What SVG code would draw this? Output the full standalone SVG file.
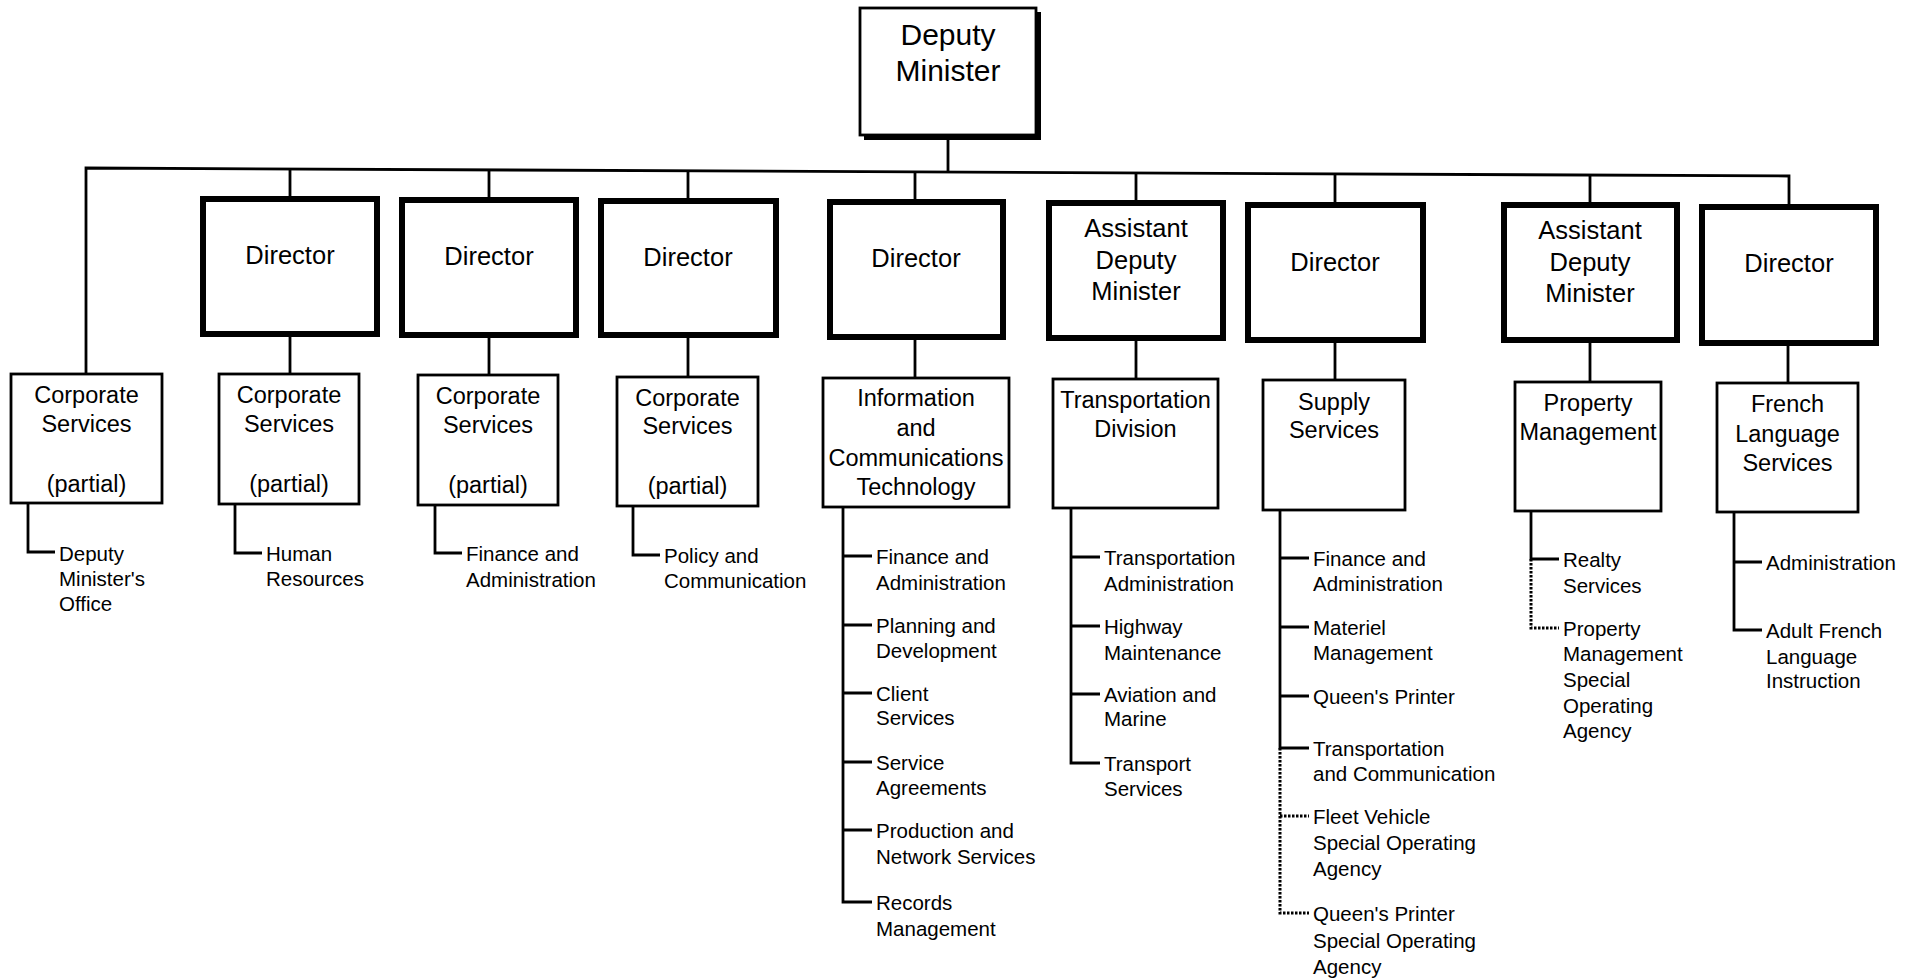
<svg xmlns="http://www.w3.org/2000/svg" width="1915" height="979" viewBox="0 0 1915 979">
<style>
  text { font-family: "Liberation Sans", Arial, sans-serif; fill: #000; }
  .dm { font-size: 30px; text-anchor: middle; }
  .l2 { font-size: 25.5px; text-anchor: middle; }
  .l3 { font-size: 23.5px; text-anchor: middle; }
  .lf { font-size: 20.5px; }
  .thick { fill: #fff; stroke: #000; stroke-width: 6; }
  .thin { fill: #fff; stroke: #000; stroke-width: 2.8; }
  .ln { fill: none; stroke: #000; stroke-width: 2.8; }
  .dot { fill: none; stroke: #000; stroke-width: 3; stroke-dasharray: 2.5 1.5; }
</style>
<rect width="1915" height="979" fill="#fff"/>

<g id="connectors">
  <path class="ln" d="M948 135 V172"/>
  <path class="ln" d="M86 373 V168 L1789 176 V204"/>
  <path class="ln" d="M290 169 V196 M489 170 V197 M688 171 V198 M915 172 V199 M1136 173 V200 M1335 174 V202 M1590 175 V202"/>
  <path class="ln" d="M290 337 V373 M489 338 V374 M688 338 V376 M915 340 V377 M1136 341 V378 M1335 343 V379 M1590 343 V381 M1788 346 V382"/>
  <path class="ln" d="M28 504 V552 H55"/>
  <path class="ln" d="M235 505 V553 H262"/>
  <path class="ln" d="M435 506 V553 H462"/>
  <path class="ln" d="M633 507 V555 H660"/>
  <path class="ln" d="M843 508 V902 H872 M843 556 H872 M843 625 H872 M843 693 H872 M843 762 H872 M843 830 H872"/>
  <path class="ln" d="M1071 509 V763 H1100 M1071 557 H1100 M1071 626 H1100 M1071 694 H1100"/>
  <path class="ln" d="M1280 511 V748 H1309 M1280 558 H1309 M1280 627 H1309 M1280 696 H1309"/>
  <path class="dot" d="M1280 748 V913 H1309 M1280 816 H1309"/>
  <path class="ln" d="M1531 512 V559 H1559"/>
  <path class="dot" d="M1531 559 V628 H1559"/>
  <path class="ln" d="M1734 513 V630 H1762 M1734 562 H1762"/>
</g>

<g id="deputy-minister">
  <rect x="864" y="12" width="177" height="128" fill="#000"/>
  <rect class="thin" x="860" y="8" width="176" height="127"/>
  <text class="dm" x="948" y="45">Deputy</text>
  <text class="dm" x="948" y="81">Minister</text>
</g>

<g id="dir-a"><rect class="thick" x="203" y="199" width="174" height="135"/><text class="l2" x="290" y="264">Director</text></g>
<g id="dir-b"><rect class="thick" x="402" y="200" width="174" height="135"/><text class="l2" x="489" y="265">Director</text></g>
<g id="dir-c"><rect class="thick" x="601" y="201" width="175" height="134"/><text class="l2" x="688" y="266">Director</text></g>
<g id="dir-d"><rect class="thick" x="830" y="202" width="173" height="135"/><text class="l2" x="916" y="267">Director</text></g>
<g id="adm-e"><rect class="thick" x="1049" y="203" width="174" height="135"/>
  <text class="l2" x="1136" y="237">Assistant</text><text class="l2" x="1136" y="269">Deputy</text><text class="l2" x="1136" y="300">Minister</text></g>
<g id="dir-f"><rect class="thick" x="1248" y="205" width="175" height="135"/><text class="l2" x="1335" y="271">Director</text></g>
<g id="adm-g"><rect class="thick" x="1504" y="205" width="173" height="135"/>
  <text class="l2" x="1590" y="239">Assistant</text><text class="l2" x="1590" y="271">Deputy</text><text class="l2" x="1590" y="302">Minister</text></g>
<g id="dir-h"><rect class="thick" x="1702" y="207" width="174" height="136"/><text class="l2" x="1789" y="272">Director</text></g>

<g id="cs-a"><rect class="thin" x="11" y="374" width="151" height="129"/>
  <text class="l3" x="86.5" y="402.5">Corporate</text><text class="l3" x="86.5" y="431.5">Services</text><text class="l3" x="86.5" y="491.5">(partial)</text></g>
<g id="cs-b"><rect class="thin" x="219" y="374" width="140" height="130"/>
  <text class="l3" x="289" y="402.5">Corporate</text><text class="l3" x="289" y="431.5">Services</text><text class="l3" x="289" y="491.5">(partial)</text></g>
<g id="cs-c"><rect class="thin" x="418" y="375" width="140" height="130"/>
  <text class="l3" x="488" y="403.5">Corporate</text><text class="l3" x="488" y="432.5">Services</text><text class="l3" x="488" y="492.5">(partial)</text></g>
<g id="cs-d"><rect class="thin" x="617" y="377" width="141" height="129"/>
  <text class="l3" x="687.5" y="405.5">Corporate</text><text class="l3" x="687.5" y="433.5">Services</text><text class="l3" x="687.5" y="493.5">(partial)</text></g>
<g id="ict"><rect class="thin" x="823" y="378" width="186" height="129"/>
  <text class="l3" x="916" y="405.5">Information</text><text class="l3" x="916" y="435.5">and</text><text class="l3" x="916" y="465.5">Communications</text><text class="l3" x="916" y="494.5">Technology</text></g>
<g id="transport-div"><rect class="thin" x="1053" y="379" width="165" height="129"/>
  <text class="l3" x="1135.5" y="407.5">Transportation</text><text class="l3" x="1135.5" y="436.5">Division</text></g>
<g id="supply"><rect class="thin" x="1263" y="380" width="142" height="130"/>
  <text class="l3" x="1334" y="409.5">Supply</text><text class="l3" x="1334" y="437.5">Services</text></g>
<g id="property"><rect class="thin" x="1515" y="382" width="146" height="129"/>
  <text class="l3" x="1588" y="410.5">Property</text><text class="l3" x="1588" y="439.5">Management</text></g>
<g id="french"><rect class="thin" x="1717" y="383" width="141" height="129"/>
  <text class="l3" x="1787.5" y="411.5">French</text><text class="l3" x="1787.5" y="441.5">Language</text><text class="l3" x="1787.5" y="470.5">Services</text></g>

<g id="leaf-a"><text class="lf" x="59" y="560.5">Deputy</text><text class="lf" x="59" y="585.5">Minister's</text><text class="lf" x="59" y="610.5">Office</text></g>
<g id="leaf-b"><text class="lf" x="266" y="560.5">Human</text><text class="lf" x="266" y="585.5">Resources</text></g>
<g id="leaf-c"><text class="lf" x="466" y="560.5">Finance and</text><text class="lf" x="466" y="586.5">Administration</text></g>
<g id="leaf-d"><text class="lf" x="664" y="562.5">Policy and</text><text class="lf" x="664" y="587.5">Communication</text></g>

<g id="leaf-ict">
  <text class="lf" x="876" y="563.5">Finance and</text><text class="lf" x="876" y="589.5">Administration</text>
  <text class="lf" x="876" y="632.5">Planning and</text><text class="lf" x="876" y="657.5">Development</text>
  <text class="lf" x="876" y="700.5">Client</text><text class="lf" x="876" y="724.5">Services</text>
  <text class="lf" x="876" y="769.5">Service</text><text class="lf" x="876" y="794.5">Agreements</text>
  <text class="lf" x="876" y="837.5">Production and</text><text class="lf" x="876" y="863.5">Network Services</text>
  <text class="lf" x="876" y="909.5">Records</text><text class="lf" x="876" y="935.5">Management</text>
</g>
<g id="leaf-transport">
  <text class="lf" x="1104" y="564.5">Transportation</text><text class="lf" x="1104" y="590.5">Administration</text>
  <text class="lf" x="1104" y="633.5">Highway</text><text class="lf" x="1104" y="659.5">Maintenance</text>
  <text class="lf" x="1104" y="701.5">Aviation and</text><text class="lf" x="1104" y="725.5">Marine</text>
  <text class="lf" x="1104" y="770.5">Transport</text><text class="lf" x="1104" y="795.5">Services</text>
</g>
<g id="leaf-supply">
  <text class="lf" x="1313" y="565.5">Finance and</text><text class="lf" x="1313" y="590.5">Administration</text>
  <text class="lf" x="1313" y="634.5">Materiel</text><text class="lf" x="1313" y="659.5">Management</text>
  <text class="lf" x="1313" y="703.5">Queen's Printer</text>
  <text class="lf" x="1313" y="755.5">Transportation</text><text class="lf" x="1313" y="780.5">and Communication</text>
  <text class="lf" x="1313" y="823.5">Fleet Vehicle</text><text class="lf" x="1313" y="849.5">Special Operating</text><text class="lf" x="1313" y="875.5">Agency</text>
  <text class="lf" x="1313" y="920.5">Queen's Printer</text><text class="lf" x="1313" y="947.5">Special Operating</text><text class="lf" x="1313" y="973.5">Agency</text>
</g>
<g id="leaf-property">
  <text class="lf" x="1563" y="566.5">Realty</text><text class="lf" x="1563" y="592.5">Services</text>
  <text class="lf" x="1563" y="635.5">Property</text><text class="lf" x="1563" y="660.5">Management</text><text class="lf" x="1563" y="686.5">Special</text><text class="lf" x="1563" y="712.5">Operating</text><text class="lf" x="1563" y="737.5">Agency</text>
</g>
<g id="leaf-french">
  <text class="lf" x="1766" y="569.5">Administration</text>
  <text class="lf" x="1766" y="637.5">Adult French</text><text class="lf" x="1766" y="663.5">Language</text><text class="lf" x="1766" y="687.5">Instruction</text>
</g>
</svg>
